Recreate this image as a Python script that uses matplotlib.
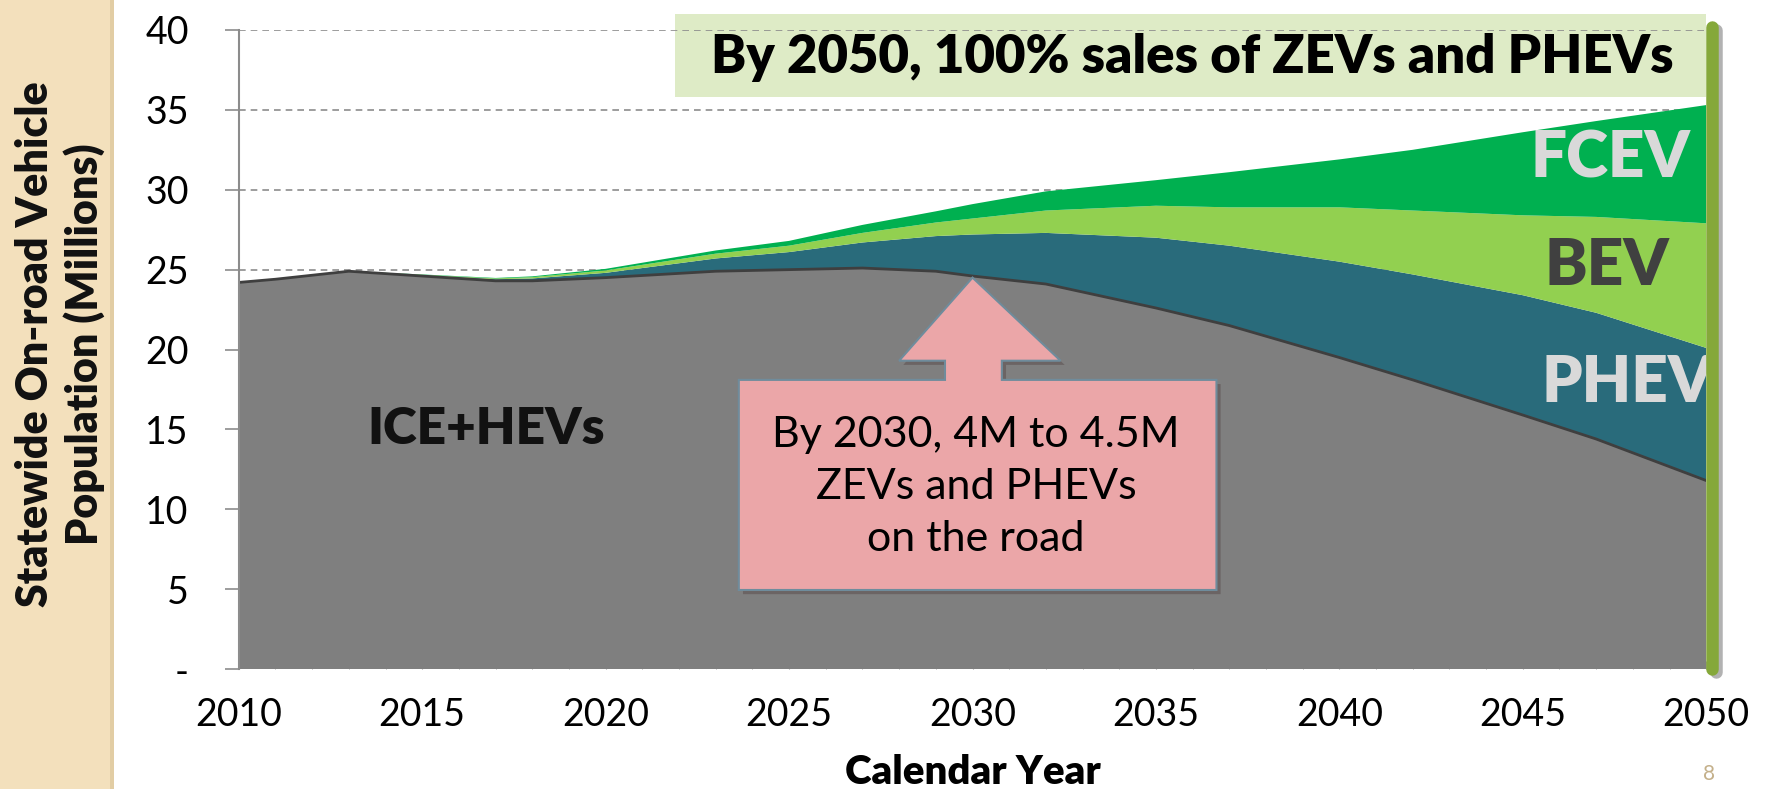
import matplotlib
matplotlib.use("Agg")
import matplotlib.pyplot as plt
from matplotlib.patches import Rectangle, Polygon
from matplotlib.ticker import MultipleLocator
import matplotlib.patheffects as pe

plt.rcParams['font.family'] = ['Lato', 'DejaVu Sans']

# values (millions of vehicles)
years = [2010, 2011, 2013, 2015, 2017, 2018, 2020, 2023, 2025, 2027, 2029, 2030,
         2032, 2035, 2037, 2040, 2042, 2045, 2047, 2050]
ice_hev = [24.2, 24.4, 24.9, 24.6, 24.3, 24.3, 24.5, 24.9, 25.0, 25.1, 24.9, 24.6,
           24.1, 22.6, 21.5, 19.5, 18.1, 15.9, 14.4, 11.8]
phev = [0, 0, 0, 0.05, 0.1, 0.15, 0.3, 0.8, 1.1, 1.6, 2.2, 2.6,
        3.2, 4.4, 5.0, 6.0, 6.6, 7.5, 7.9, 8.3]
bev = [0, 0, 0, 0.03, 0.05, 0.08, 0.15, 0.3, 0.4, 0.6, 0.85, 1.0,
       1.4, 2.0, 2.4, 3.4, 4.0, 5.0, 6.0, 7.8]
fcev = [0, 0, 0, 0.02, 0.03, 0.05, 0.1, 0.2, 0.3, 0.5, 0.7, 0.9,
        1.2, 1.6, 2.2, 3.0, 3.8, 5.2, 6.0, 7.4]

y_ticks = [0, 5, 10, 15, 20, 25, 30, 35, 40]
y_labels = ['-', '5', '10', '15', '20', '25', '30', '35', '40']
x_ticks = [2010, 2015, 2020, 2025, 2030, 2035, 2040, 2045, 2050]

colors = ['#7F7F7F', '#296B7B', '#92D050', '#00B050']

fig = plt.figure(figsize=(17.69, 7.89), dpi=100)
fig.patch.set_facecolor('white')

# beige side stripe of the slide
fig.patches.append(Rectangle((0, 0), 113 / 1769, 1, transform=fig.transFigure,
                             facecolor='#F3E0BC', edgecolor='none', zorder=0))
fig.patches.append(Rectangle((110 / 1769, 0), 4 / 1769, 1, transform=fig.transFigure,
                             facecolor='#E2CDA4', edgecolor='none', zorder=0))

ax = fig.add_axes([0.135, 0.152, 0.8295, 0.81])
ax.set_xlim(2010, 2050)
ax.set_ylim(0, 40)

# dashed grid
for yv in [25, 30, 35, 40]:
    ax.axhline(yv, color='#8C8C8C', lw=1.2, ls=(0, (4, 3)), zorder=1)

ax.stackplot(years, ice_hev, phev, bev, fcev, colors=colors, lw=0, zorder=2)
ax.plot(years, ice_hev, color='#3F3F3F', lw=2, zorder=3)

# banner at top
ax.add_patch(Rectangle((2021.9, 35.8), 2050 - 2021.9, 41.0 - 35.8, facecolor='#DEEBC6',
                       edgecolor='none', zorder=0.5, clip_on=False))
ax.text(2036.0, 38.3, 'By 2050, 100% sales of ZEVs and PHEVs', ha='center', va='center',
        fontsize=38, fontweight='heavy', color='black', zorder=4)

# series labels
ax.text(2013.5, 15.0, 'ICE+HEVs', fontsize=37, fontweight='heavy', color='#111111',
        va='center', ha='left', zorder=4)
ax.text(2045.2, 31.9, 'FCEV', fontsize=46, fontweight='heavy', color='#D9D9D9',
        va='center', ha='left', zorder=4)
ax.text(2045.6, 25.2, 'BEV', fontsize=46, fontweight='heavy', color='#404040',
        va='center', ha='left', zorder=4)
ax.text(2045.5, 17.9, 'PHEV', fontsize=46, fontweight='heavy', color='#D9D9D9',
        va='center', ha='left', zorder=4)

# callout arrow pointing at 2030
tip_x, tip_y = 2030.0, 24.5
shape = [(tip_x, tip_y), (tip_x + 2.4, 19.3), (tip_x + 0.8, 19.3), (tip_x + 0.8, 18.1),
         (2036.65, 18.1), (2036.65, 4.95), (2023.63, 4.95), (2023.63, 18.1),
         (tip_x - 0.75, 18.1), (tip_x - 0.75, 19.3), (tip_x - 2.0, 19.3)]
callout = Polygon(shape, closed=True, facecolor='#EBA6A8', edgecolor='#6F8C9C', lw=1.5,
                  zorder=5)
callout.set_path_effects([pe.SimplePatchShadow(offset=(3, -3), alpha=0.35), pe.Normal()])
ax.add_patch(callout)
ax.text(2030.1, 11.4, 'By 2030, 4M to 4.5M\nZEVs and PHEVs\non the road', ha='center',
        va='center', fontsize=31, color='black', linespacing=1.45, zorder=6)

# green vertical bar at 2050
ax.plot([2050.15, 2050.15], [0, 40.2], color='#85A83A', lw=9, solid_capstyle='round',
        zorder=7, clip_on=False,
        path_effects=[pe.SimpleLineShadow(offset=(3, -2), alpha=0.3), pe.Normal()])

# axes styling
for s in ['top', 'right', 'bottom']:
    ax.spines[s].set_visible(False)
ax.spines['left'].set_color('#8C8C8C')
ax.spines['left'].set_linewidth(1.5)
ax.spines['left'].set_zorder(4)

ax.set_yticks(y_ticks)
ax.set_yticklabels(y_labels)
ax.tick_params(axis='y', direction='out', length=10, width=1.2, color='#8C8C8C',
               pad=26, labelsize=27)
ax.set_xticks(x_ticks)
ax.xaxis.set_minor_locator(MultipleLocator(1))
ax.tick_params(axis='x', which='both', direction='in', length=6, color='#9A9A9A',
               pad=20, labelsize=27)
for lbl in ax.get_xticklabels() + ax.get_yticklabels():
    lbl.set_color('black')

ax.set_xlabel('Calendar Year', fontsize=29, fontweight='heavy', labelpad=15)

fig.text(60 / 1769, 1 - 344 / 789, 'Statewide On-road Vehicle\nPopulation (Millions)',
         rotation=90, ha='center', va='center', fontsize=31, fontweight='heavy',
         color='#111111', linespacing=1.25)

fig.text(1709 / 1769, 1 - 774 / 789, '8', fontsize=15, color='#C4B08A', ha='center',
         va='center')

fig.savefig('out.png', dpi=100)
